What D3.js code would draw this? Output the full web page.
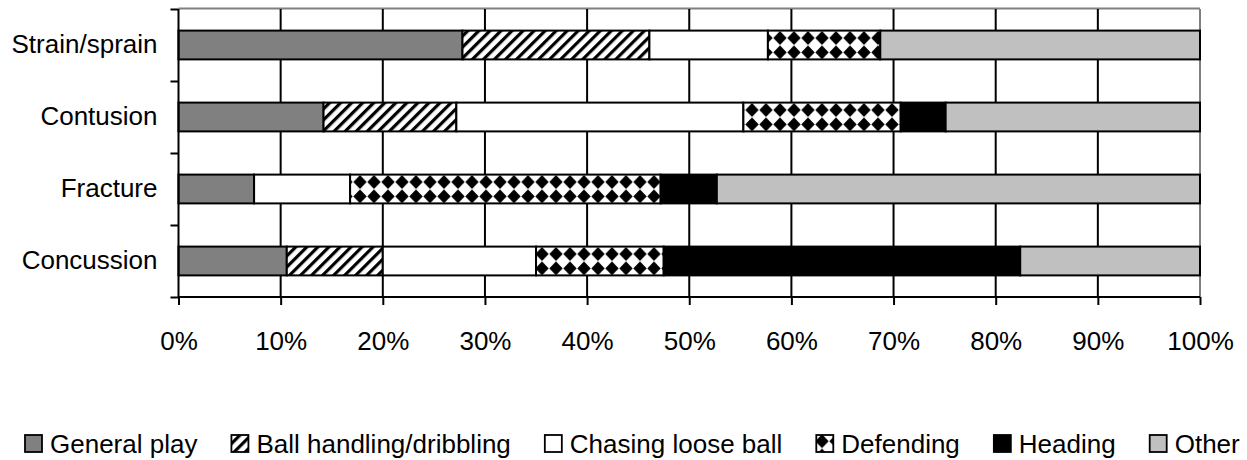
<!DOCTYPE html>
<html>
<head>
<meta charset="utf-8">
<script src="https://cdn.jsdelivr.net/npm/d3@7"></script>
<style>
  body { margin: 0; background: #fff; }
  text { font-family: "Liberation Sans", Arial, sans-serif; fill: #000; }
</style>
</head>
<body>
<svg id="chart" width="1247" height="460"></svg>
<script>
var categories = ["Strain/sprain", "Contusion", "Fracture", "Concussion"];
var seriesNames = ["General play", "Ball handling/dribbling", "Chasing loose ball", "Defending", "Heading", "Other"];
var generalPlay      = [27.8, 14.2, 7.4, 10.6];
var ballHandling     = [18.3, 13.0, 0.0, 9.4];
var chasingLooseBall = [11.6, 28.1, 9.4, 15.0];
var defending        = [11.0, 15.4, 30.4, 12.5];
var heading          = [0.0, 4.4, 5.5, 34.9];
var other            = [31.3, 24.9, 47.3, 17.6];
var xTicks = [0, 0.1, 0.2, 0.3, 0.4, 0.5, 0.6, 0.7, 0.8, 0.9, 1];

var seriesValues = [generalPlay, ballHandling, chasingLooseBall, defending, heading, other];

// rows for d3.stack
var rows = categories.map(function(c, i) {
    var r = {category: c};
    seriesNames.forEach(function(s, j) { r[s] = seriesValues[j][i]; });
    return r;
});

var svg = d3.select("#chart");

var plotLeft = 178.5, plotRight = 1200, plotTop = 9, plotBottom = 297;

var xScale = d3.scaleLinear().domain([0, 1]).range([plotLeft, plotRight]);
var yScale = d3.scaleBand().domain(categories).range([plotTop, plotBottom])
    .paddingInner(0.6).paddingOuter(0.3);
var yEdges = d3.scaleLinear().domain([0, categories.length]).range([plotTop, plotBottom]);

// patterns
var defs = svg.append("defs");
var stripes = defs.append("pattern")
    .attr("id", "stripes")
    .attr("patternUnits", "userSpaceOnUse")
    .attr("width", 7.8).attr("height", 7.8)
    .attr("patternTransform", "rotate(45)");
stripes.append("rect").attr("width", 7.8).attr("height", 7.8).attr("fill", "#fff");
stripes.append("rect").attr("width", 3.2).attr("height", 7.8).attr("fill", "#000");

var dw = 14, dh = 14.4;
var diamonds = defs.append("pattern")
    .attr("id", "diamonds")
    .attr("patternUnits", "userSpaceOnUse")
    .attr("x", 3).attr("y", 102.8)
    .attr("width", dw).attr("height", dh);
diamonds.append("rect").attr("width", dw).attr("height", dh).attr("fill", "#fff");
diamonds.append("path")
    .attr("d", "M" + dw/2 + ",0.3 L" + (dw-0.3) + "," + dh/2 + " L" + dw/2 + "," + (dh-0.3) + " L0.3," + dh/2 + "Z")
    .attr("fill", "#000");

var fills = {
    "General play": "#808080",
    "Ball handling/dribbling": "url(#stripes)",
    "Chasing loose ball": "#ffffff",
    "Defending": "url(#diamonds)",
    "Heading": "#000000",
    "Other": "#c0c0c0"
};

// plot frame (grey top)
svg.append("line")
    .attr("x1", plotLeft).attr("x2", plotRight).attr("y1", plotTop - 0.5).attr("y2", plotTop - 0.5)
    .attr("stroke", "#808080").attr("stroke-width", 2);

// vertical gridlines, last one is the grey right border
svg.append("g").selectAll("line")
    .data(xTicks.slice(1))
    .enter().append("line")
    .attr("x1", function(d) { return xScale(d); })
    .attr("x2", function(d) { return xScale(d); })
    .attr("y1", plotTop).attr("y2", plotBottom)
    .attr("stroke", function(d) { return d === 1 ? "#808080" : "#000"; })
    .attr("stroke-width", 2);

// stacked bars
var stack = d3.stack().keys(seriesNames).offset(d3.stackOffsetExpand);
var layers = stack(rows);

svg.append("g").selectAll("g")
    .data(layers)
    .enter().append("g")
    .attr("fill", function(d) { return fills[d.key]; })
    .selectAll("rect")
    .data(function(d) { return d.filter(function(p) { return p[1] - p[0] > 0; }); })
    .enter().append("rect")
    .attr("x", function(d) { return xScale(d[0]); })
    .attr("width", function(d) { return xScale(d[1]) - xScale(d[0]); })
    .attr("y", function(d) { return yScale(d.data.category); })
    .attr("height", yScale.bandwidth())
    .attr("stroke", "#000")
    .attr("stroke-width", 2);

// x axis
var xAxis = d3.axisBottom(xScale)
    .tickValues(xTicks)
    .tickFormat(d3.format(".0%"))
    .tickSize(8)
    .tickPadding(27);
var gx = svg.append("g")
    .attr("transform", "translate(0," + plotBottom + ")")
    .call(xAxis);
gx.select(".domain").attr("stroke", "#000").attr("stroke-width", 2)
    .attr("d", "M" + plotLeft + ",0H" + plotRight);
gx.selectAll(".tick line").attr("stroke", "#000").attr("stroke-width", 2);
gx.selectAll("text").style("font-size", "26px").attr("fill", "#000");

// y axis: labels at band centres, ticks at band edges
var gy = svg.append("g")
    .attr("transform", "translate(" + plotLeft + ",0)")
    .call(d3.axisLeft(yScale).tickSize(0).tickPadding(21));
gy.select(".domain").remove();
gy.selectAll("text").style("font-size", "26px").attr("fill", "#000");

var gyTicks = svg.append("g")
    .attr("transform", "translate(" + plotLeft + ",0)")
    .call(d3.axisLeft(yEdges).ticks(categories.length).tickSize(8).tickFormat(""));
gyTicks.select(".domain").attr("stroke", "#000").attr("stroke-width", 2)
    .attr("d", "M0," + plotTop + "V" + plotBottom);
gyTicks.selectAll(".tick line").attr("stroke", "#000").attr("stroke-width", 2);

// legend
var legend = svg.append("g");
var lx = 25, sq = 17, ly = 435;
seriesNames.forEach(function(s) {
    legend.append("rect")
        .attr("x", lx).attr("y", ly)
        .attr("width", sq).attr("height", sq)
        .attr("fill", fills[s])
        .attr("stroke", "#000").attr("stroke-width", 1.8);
    var t = legend.append("text")
        .attr("x", lx + 25).attr("y", ly + 18)
        .style("font-size", "26px")
        .text(s);
    lx = lx + 25 + t.node().getComputedTextLength() + 34;
});
</script>
</body>
</html>
